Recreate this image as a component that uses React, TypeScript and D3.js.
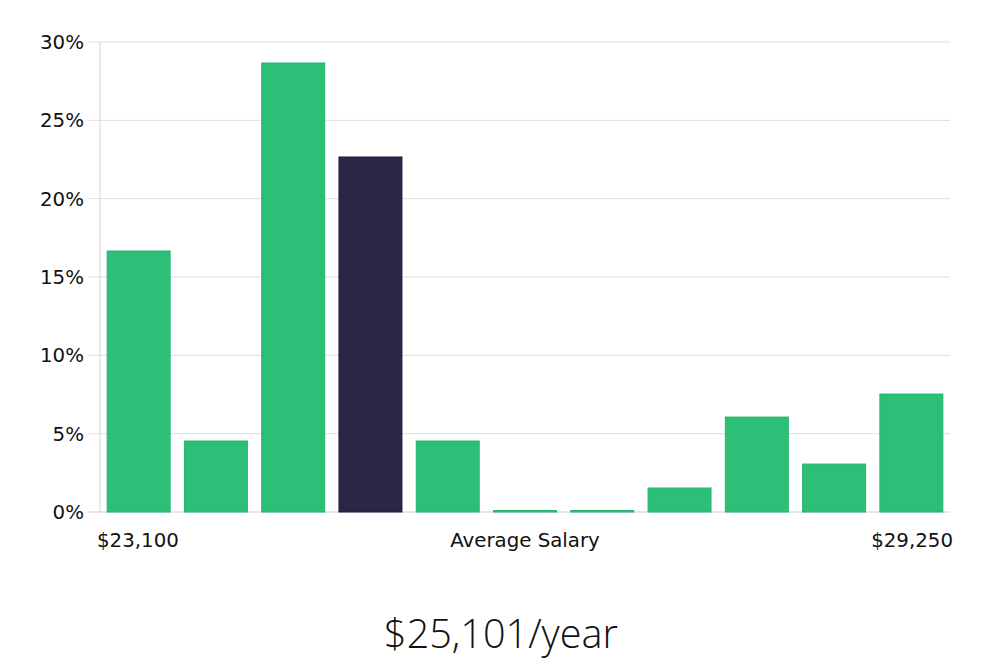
import React from "react";
import * as d3 from "d3";

const bins = ["b1", "b2", "b3", "b4", "b5", "b6", "b7", "b8", "b9", "b10", "b11"];
const shares = [16.66, 4.53, 28.66, 22.66, 4.53, 0, 0, 1.53, 6.06, 3.06, 7.53];
const highlightIndex = 3;
const yTicks = [0, 5, 10, 15, 20, 25, 30];
const minLabel = "$23,100";
const maxLabel = "$29,250";
const midLabel = "Average Salary";
const title = "$25,101/year";

export default function App() {
  const W = 1000, H = 660;
  const left = 100, right = 950, top = 42, bottom = 512;
  const x = d3.scaleBand<string>().domain(bins).range([left, right]).paddingInner(0.185).paddingOuter(0.0925);
  const y = d3.scaleLinear().domain([0, 30]).range([bottom, top]);
  const font = "'DejaVu Sans', sans-serif";
  return (
    <svg width={W} height={H} style={{ position: "absolute", left: 0, top: 0, background: "#fff" }}>
      {yTicks.map((t) => (
        <g key={t}>
          <line x1={89} x2={right} y1={y(t)} y2={y(t)} stroke={t === 0 ? "#cfcfcf" : "#dedede"} strokeWidth={1} />
          <text x={84} y={y(t)} dy="0.36em" textAnchor="end" fontFamily={font} fontSize={19.8} fill="#111">{t}%</text>
        </g>
      ))}
      <line x1={left} x2={left} y1={top} y2={bottom} stroke="#d3d3d3" strokeWidth={1} />
      {shares.map((v, i) => {
        const hy = Math.min(y(v), bottom - 1.5);
        const dark = i === highlightIndex;
        return (
          <rect key={i} x={x(bins[i])!} y={hy} width={x.bandwidth()} height={bottom - hy}
            fill={dark ? "#2a2647" : "#2dbe78"} stroke={dark ? "#1c1a45" : "#27b571"} strokeWidth={1} />
        );
      })}
      <text x={97} y={547} fontFamily={font} fontSize={19.8} fill="#111">{minLabel}</text>
      <text x={525} y={547} textAnchor="middle" fontFamily={font} fontSize={19.8} fill="#111">{midLabel}</text>
      <text x={953} y={547} textAnchor="end" fontFamily={font} fontSize={19.8} fill="#111">{maxLabel}</text>
      <text x={501} y={648} textAnchor="middle" fontFamily="'Open Sans', sans-serif" fontWeight={300} fontSize={39.6} fill="#111">{title}</text>
    </svg>
  );
}
